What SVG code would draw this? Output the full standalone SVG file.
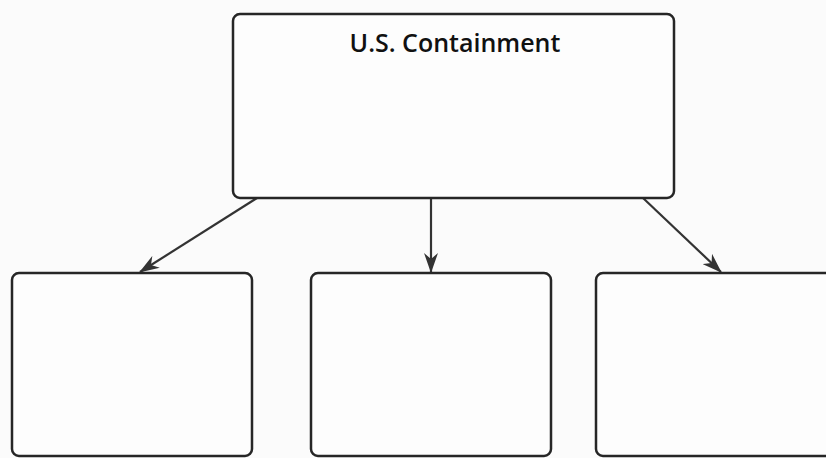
<svg xmlns="http://www.w3.org/2000/svg" width="826" height="458" viewBox="0 0 826 458">
<style>
.box{fill:#fdfdfd;stroke:#262626;stroke-width:2.5}
.conn{stroke:#333;stroke-width:2.2;fill:none}
.title{font-family:"Open Sans","Liberation Sans",sans-serif;font-weight:600;font-size:25px;fill:#111}
</style>
<defs>
<marker id="ah" viewBox="0 0 20 14" refX="19" refY="7" markerWidth="20" markerHeight="14" markerUnits="userSpaceOnUse" orient="auto">
<path d="M0,0 L20,7 L0,14 L6,7 z" fill="#333"/>
</marker>
</defs>
<rect width="826" height="458" fill="#fbfbfb"/>
<g id="connectors">
<line class="conn" x1="257" y1="198" x2="140" y2="272" marker-end="url(#ah)"/>
<line class="conn" x1="431" y1="198" x2="431" y2="272" marker-end="url(#ah)"/>
<line class="conn" x1="643" y1="198" x2="721" y2="272" marker-end="url(#ah)"/>
</g>
<g id="node-containment">
<rect class="box" x="233" y="14" width="441" height="184" rx="7"/>
<text class="title" x="455" y="52" text-anchor="middle">U.S. Containment</text>
</g>
<g id="node-left">
<rect class="box" x="12" y="273" width="240" height="183" rx="7"/>
</g>
<g id="node-middle">
<rect class="box" x="311" y="273" width="240" height="183" rx="7"/>
</g>
<g id="node-right">
<rect class="box" x="596" y="273" width="250" height="183" rx="7"/>
</g>
</svg>
